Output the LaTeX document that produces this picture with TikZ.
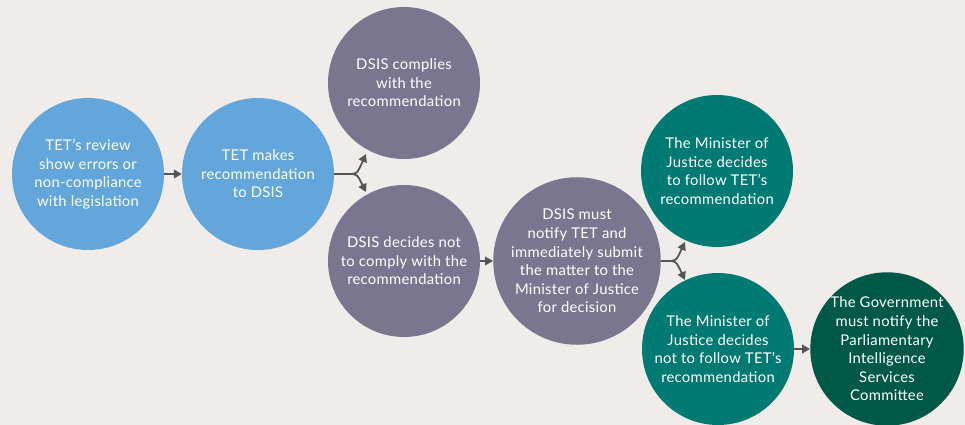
\documentclass[tikz,border=0pt]{standalone}
\usepackage{fontspec}
\setmainfont{Lato}[LetterSpace=2]
\usetikzlibrary{arrows.meta}
\definecolor{bgc}{HTML}{EFECE9}
\definecolor{blu}{HTML}{62A6DB}
\definecolor{pur}{HTML}{7A768F}
\definecolor{tea}{HTML}{007A72}
\definecolor{dgr}{HTML}{005846}
\definecolor{arr}{HTML}{555555}
\tikzset{
  bub/.style={circle, minimum size=152pt, inner sep=0pt, text=white, align=center,
    font=\fontsize{14.8}{18.6}\selectfont},
  con/.style={draw=arr, line width=1.8pt, -{Triangle[length=8pt,width=8.5pt]}},
}
\begin{document}
\begin{tikzpicture}[x=1pt,y=-1pt]
\fill[bgc] (0,0) rectangle (965,425);
\useasboundingbox (0,0) rectangle (965,425);
\node[bub, fill=blu] (c1) at (88,174) {TET’s review\\show errors or\\non-compliance\\with legislation};
\node[bub, fill=blu] (c2) at (258,174) {TET makes\\recommendation\\to DSIS};
\node[bub, fill=pur] (c3) at (404,83) {DSIS complies\\with the\\recommendation};
\node[bub, fill=pur] (c4) at (404,261) {DSIS decides not\\to comply with the\\recommendation};
\node[bub, fill=pur] (c5) at (577,261) {DSIS must\\notify TET and\\immediately submit\\the matter to the\\Minister of Justice\\for decision};
\node[bub, fill=tea] (c6) at (717,171) {The Minister of\\Justice decides\\to follow TET’s\\recommendation};
\node[bub, fill=tea] (c7) at (718,349) {The Minister of\\Justice decides\\not to follow TET’s\\recommendation};
\node[bub, fill=dgr] (c8) at (887,349) {The Government\\must notify the\\Parliamentary\\Intelligence\\Services\\Committee};
\draw[con] (c1) -- (c2);
\draw[con] (c4) -- (c5);
\draw[con] (c7) -- (c8);
\coordinate (f1) at (349,174);
\coordinate (t1a) at (366,154);
\coordinate (t1b) at (366,192);
\draw[draw=arr, line width=1.8pt] (c2.east) -- (f1);
\draw[con] (f1) .. controls (357,174) .. (t1a);
\draw[con] (f1) .. controls (357,174) .. (t1b);
\coordinate (f2) at (668,261);
\coordinate (t2a) at (685,242);
\coordinate (t2b) at (685,280);
\draw[draw=arr, line width=1.8pt] (c5.east) -- (f2);
\draw[con] (f2) .. controls (676,261) .. (t2a);
\draw[con] (f2) .. controls (676,261) .. (t2b);
\end{tikzpicture}
\end{document}
